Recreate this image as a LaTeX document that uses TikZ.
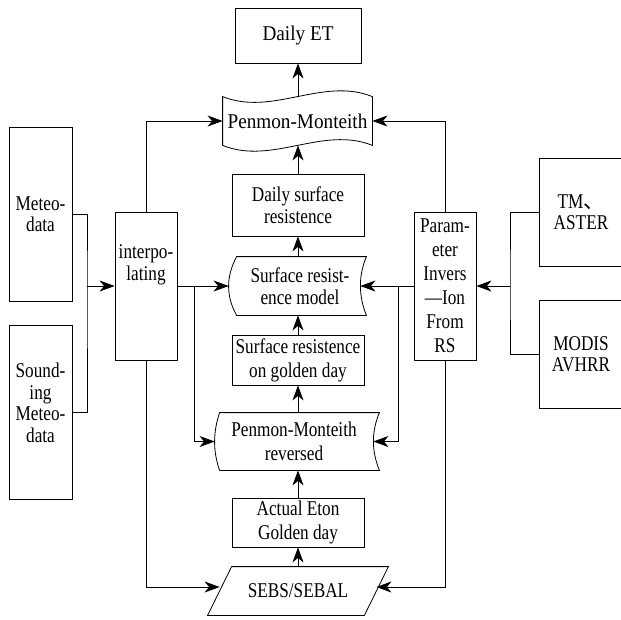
\documentclass[tikz,border=0pt]{standalone}
\usepackage{fontspec}
\setmainfont{Liberation Serif}[FakeStretch=0.82]
\newfontfamily\widefont{Liberation Serif}[FakeStretch=0.915]
\newfontfamily\cjkfont{Noto Sans CJK SC}
\usetikzlibrary{arrows.meta,calc}
\begin{document}
\begin{tikzpicture}[x=1pt,y=-1pt, line width=0.8pt,
  box/.style={draw, rectangle, inner sep=0pt, align=center, font=\fontsize{21}{21.5}\selectfont},
  plain/.style={rectangle, inner sep=0pt, align=center, font=\fontsize{21}{21.5}\selectfont},
  txt/.style={inner sep=0pt, align=center, font=\fontsize{21}{21.5}\selectfont},
  wide/.style={font=\fontsize{21}{24}\selectfont},
  arr/.style={-{Stealth[length=15pt,width=11pt,inset=4.5pt]}}
]
\useasboundingbox (0,0) rectangle (621,619);
\clip (0,0) rectangle (621,619);

% centre column
\node[box, minimum width=126pt, minimum height=55pt] (et) at (298,35.5) {\widefont Daily ET};
\node[plain, minimum width=149pt, minimum height=48pt] (pm) at (297.5,121) {\widefont Penmon-Monteith};
\draw (pm.north west) .. controls ([shift={(49.7,20)}]pm.north west) and ([shift={(-49.7,-20)}]pm.north east) .. (pm.north east)
  -- (pm.south east) .. controls ([shift={(-49.7,-20)}]pm.south east) and ([shift={(49.7,20)}]pm.south west) .. (pm.south west) -- cycle;
\node[box, minimum width=132pt, minimum height=62pt] (dsr) at (298,205) {Daily surface\\resistence};
\node[plain, minimum width=131pt, minimum height=58pt] (srm) at (294.5,286) {};
\node[txt] (srmT) at ([xshift=5.5pt]srm.center) {Surface resist-\\ence model};
\draw ([xshift=8pt]srm.north west) -- ([xshift=6pt]srm.north east)
  .. controls ([shift={(-2,19.3)}]srm.north east) and ([shift={(-2,38.7)}]srm.north east) .. ([xshift=6pt]srm.south east)
  -- ([xshift=8pt]srm.south west)
  .. controls ([shift={(-2.67,-19.3)}]srm.south west) and ([shift={(-2.67,-38.7)}]srm.south west) .. ([xshift=8pt]srm.north west) -- cycle;
\node[box, wide, minimum width=132pt, minimum height=50pt] (sgd) at (298,360) {Surface resistence\\on golden day};
\node[plain, wide, minimum width=158pt, minimum height=57pt] (pmr) at (294,441.5) {Penmon-Monteith\\reversed};
\draw ([xshift=5pt]pmr.north west) -- ([xshift=6pt]pmr.north east)
  .. controls ([shift={(-2,19)}]pmr.north east) and ([shift={(-2,38)}]pmr.north east) .. ([xshift=6pt]pmr.south east)
  -- ([xshift=5pt]pmr.south west)
  .. controls ([shift={(-1.67,-19)}]pmr.south west) and ([shift={(-1.67,-38)}]pmr.south west) .. ([xshift=5pt]pmr.north west) -- cycle;
\node[box, wide, minimum width=132pt, minimum height=49pt] (aet) at (298,522.5) {Actual Eton\\Golden day};
\node[plain, minimum width=156pt, minimum height=48pt] (sebs) at (298,591) {SEBS/SEBAL};
\draw ([xshift=12pt]sebs.north west) -- ([xshift=12pt]sebs.north east) -- ([xshift=-12pt]sebs.south east) -- ([xshift=-12pt]sebs.south west) -- cycle;

% side boxes
\node[box, minimum width=63pt, minimum height=174pt] (meteo) at (40.5,214) {Meteo-\\data};
\node[box, minimum width=63pt, minimum height=174pt] (sound) at (40.5,412) {};
\node[txt] (soundT) at (40.5,403) {Sound-\\ing\\Meteo-\\data};
\node[box, minimum width=62pt, minimum height=148pt] (interp) at (146,286) {};
\node[txt] (interpT) at (146,265) {interpo-\\lating};
\node[box, wide, minimum width=62pt, minimum height=148pt] (param) at (445,286) {Param-\\eter\\Invers\\—Ion\\From\\RS};
\node[box, minimum width=84pt, minimum height=108pt] (tm) at (581,212) {TM{\cjkfont 、}\\ASTER};
\node[box, minimum width=84pt, minimum height=108pt] (modis) at (581,354) {MODIS\\AVHRR};

% junctions
\coordinate (jl) at (87,286);
\coordinate (jr) at (510,286);
\coordinate (bl) at (194,286);
\coordinate (br) at (398,286);

% connectors
\draw (meteo.east) -| (jl) |- (sound.east);
\draw[arr] (jl) -- (interp.west);
\draw (tm.west) -| (jr) |- (modis.west);
\draw[arr] (jr) -- (param.east);

\draw[arr] (interp.north) |- (pm.west);
\draw[arr] (param.north) |- (pm.east);
\draw[arr] (interp.east) -- (srm.west);
\draw[arr] (param.west) -- (srm.east);
\draw[arr] (bl) |- (pmr.west);
\draw[arr] (br) |- (pmr.east);
\draw[arr] (interp.south) |- ([yshift=4pt]sebs.west);
\draw[arr] (param.south) |- ([yshift=4pt]sebs.east);

\draw[arr] (sebs.north) -- (aet.south);
\draw[arr] (aet.north) -- (aet.north |- pmr.south);
\draw[arr] (sgd.south |- pmr.north) -- (sgd.south);
\draw[arr] (sgd.north) -- (sgd.north |- srm.south);
\draw[arr] (dsr.south |- srm.north) -- (dsr.south);
\draw[arr] (dsr.north) -- (dsr.north |- pm.south);
\draw[arr] (et.south |- pm.north) -- (et.south);
\end{tikzpicture}
\end{document}
